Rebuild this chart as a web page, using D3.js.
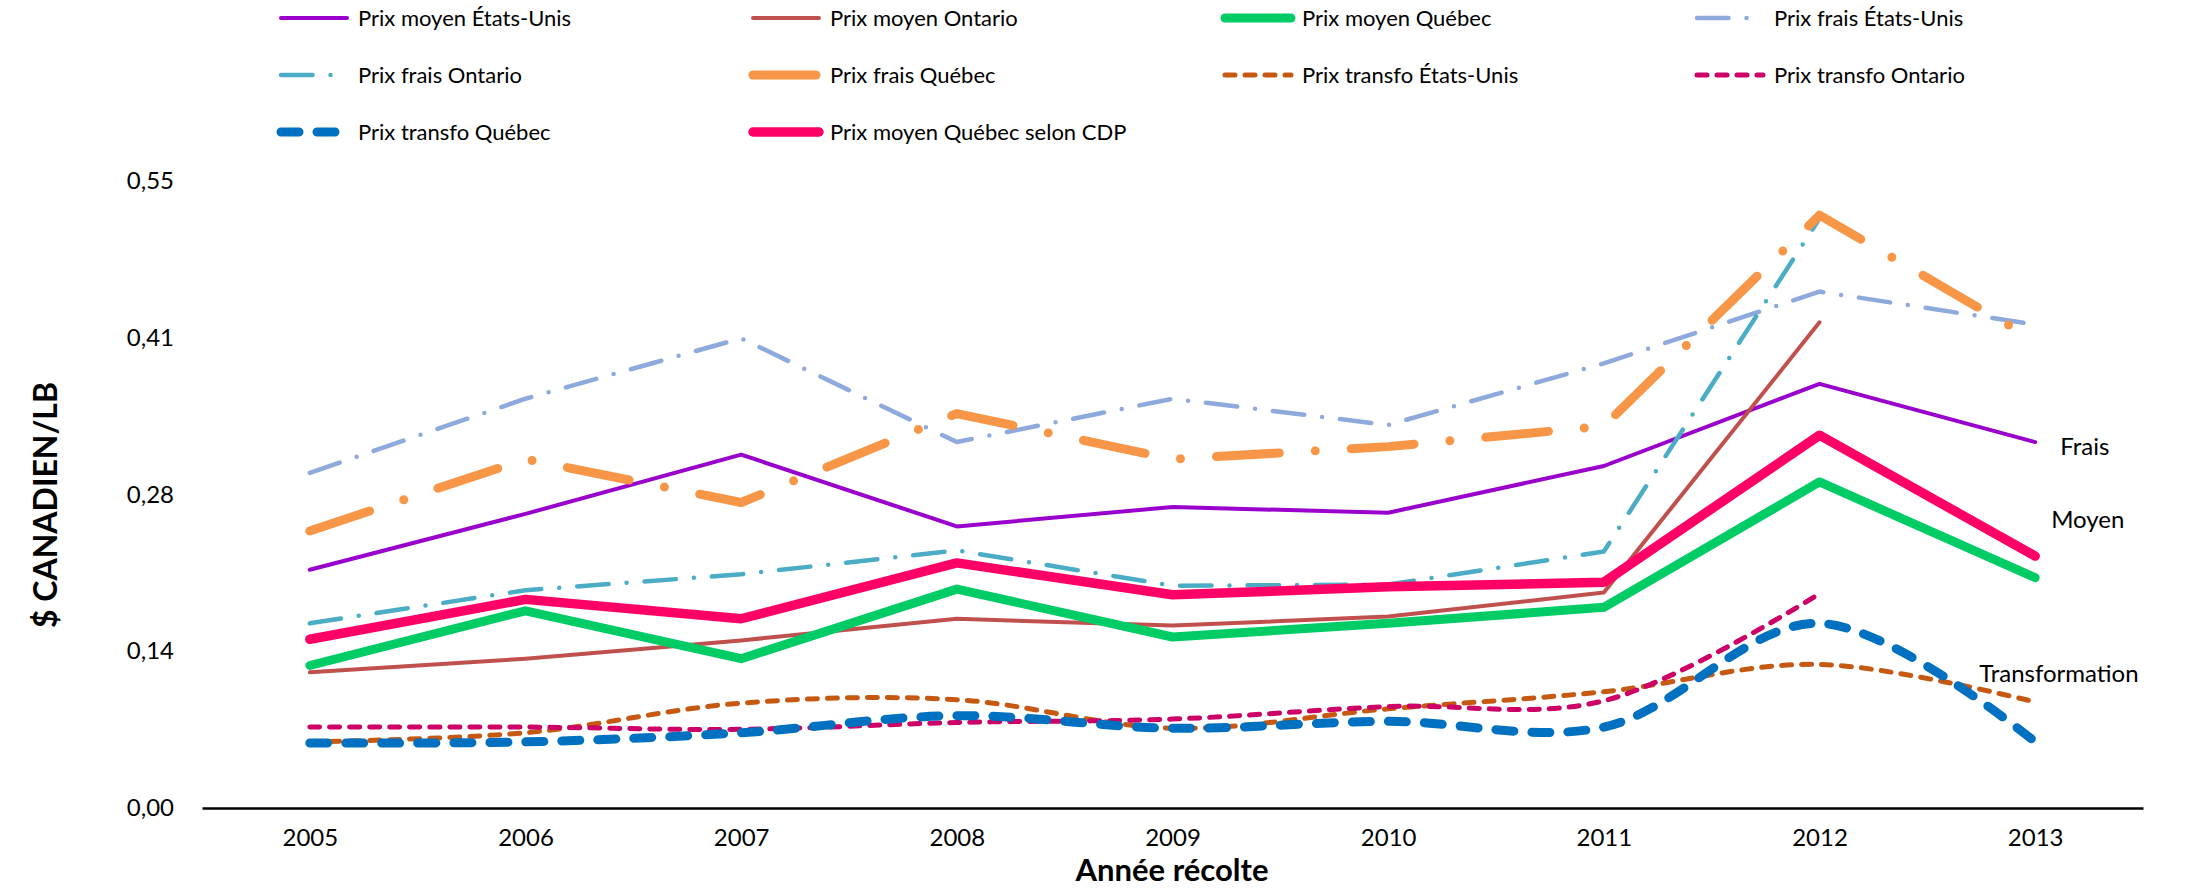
<!DOCTYPE html>
<html>
<head>
<meta charset="utf-8">
<script src="https://cdn.jsdelivr.net/npm/d3@7"></script>
<style>
  body { margin: 0; background: #fff; }
  svg { display: block; font-family: Lato, "Open Sans", sans-serif; }
</style>
</head>
<body>
<svg id="chart" width="2186" height="892"></svg>
<script>
// data
const years = ['2005', '2006', '2007', '2008', '2009', '2010', '2011', '2012', '2013'];

const moyenEU   = [0.209, 0.258, 0.310, 0.247, 0.264, 0.259, 0.300, 0.372, 0.321];
const moyenON   = [0.119, 0.131, 0.147, 0.166, 0.160, 0.168, 0.189, 0.426, null];
const moyenQC   = [0.125, 0.173, 0.131, 0.192, 0.150, 0.162, 0.176, 0.286, 0.202];
const fraisEU   = [0.294, 0.359, 0.412, 0.321, 0.359, 0.336, 0.390, 0.453, 0.424];
const fraisON   = [0.162, 0.191, 0.205, 0.226, 0.195, 0.196, 0.225, 0.517, null];
const fraisQC   = [0.243, 0.306, 0.268, 0.346, 0.306, 0.317, 0.335, 0.520, 0.410];
const transfoEU = [0.058, 0.066, 0.092, 0.095, 0.070, 0.087, 0.102, 0.126, 0.093];
const transfoON = [0.071, 0.071, 0.069, 0.075, 0.078, 0.089, 0.094, 0.188, null];
const transfoQC = [0.057, 0.058, 0.066, 0.081, 0.070, 0.076, 0.071, 0.162, 0.058];
const moyenCDP  = [0.148, 0.183, 0.166, 0.215, 0.187, 0.194, 0.198, 0.327, 0.221];

const yTicks = [0, 0.1375, 0.275, 0.4125, 0.55];
const yTickLabels = ['0,00', '0,14', '0,28', '0,41', '0,55'];

// sysDash / lgDashDot as drawn with round caps
const dash = w => [2 * w, 2 * w];
const dashDot = w => [7 * w, 4 * w, 0, 4 * w];

const series = [
  { name: 'Prix moyen États-Unis', values: moyenEU, color: '#9900CC', width: 4 },
  { name: 'Prix moyen Ontario', values: moyenON, color: '#C0504D', width: 4 },
  { name: 'Prix moyen Québec', values: moyenQC, color: '#00CC66', width: 9 },
  { name: 'Prix frais États-Unis', values: fraisEU, color: '#8EA9DB', width: 4.5, dash: dashDot(4.5) },
  { name: 'Prix frais Ontario', values: fraisON, color: '#4BACC6', width: 4.5, dash: dashDot(4.5) },
  { name: 'Prix frais Québec', values: fraisQC, color: '#F79646', width: 9, dash: dashDot(9) },
  { name: 'Prix transfo États-Unis', values: transfoEU, color: '#C65911', width: 5, dash: dash(5), smooth: true },
  { name: 'Prix transfo Ontario', values: transfoON, color: '#CC0066', width: 5, dash: dash(5), smooth: true },
  { name: 'Prix transfo Québec', values: transfoQC, color: '#0070C0', width: 9, dash: dash(9), smooth: true },
  { name: 'Prix moyen Québec selon CDP', values: moyenCDP, color: '#FF0066', width: 9.5 }
];

const svg = d3.select('#chart');

const x = d3.scalePoint().domain(years).range([202, 2143]).padding(0.5);
const y = d3.scaleLinear().domain([0, 0.55]).range([808, 181]);

// y axis (labels only)
const yAxis = svg.append('g')
  .attr('transform', 'translate(202,0)')
  .call(d3.axisLeft(y).tickValues(yTicks).tickSize(0).tickPadding(28)
    .tickFormat((d, i) => yTickLabels[i]));
yAxis.select('.domain').remove();
yAxis.selectAll('text').attr('font-size', 24).attr('fill', '#000').attr('font-family', 'Lato');

// x axis
const xAxis = svg.append('g')
  .attr('transform', 'translate(0,808)')
  .call(d3.axisBottom(x).tickSize(0).tickPadding(21));
xAxis.select('.domain').attr('stroke', '#000').attr('stroke-width', 2.5);
xAxis.selectAll('text').attr('font-size', 24).attr('fill', '#000').attr('font-family', 'Lato');

// lines
series.forEach(s => {
  const line = d3.line()
    .defined(d => d != null)
    .x((d, i) => x(years[i]))
    .y(d => y(d))
    .curve(s.smooth ? d3.curveCatmullRom.alpha(0.5) : d3.curveLinear);
  svg.append('path')
    .datum(s.values)
    .attr('d', line)
    .attr('fill', 'none')
    .attr('stroke', s.color)
    .attr('stroke-width', s.width)
    .attr('stroke-linecap', 'round')
    .attr('stroke-linejoin', 'round')
    .attr('stroke-dasharray', s.dash ? s.dash.join(',') : null);
});

// legend
const legend = svg.append('g');
series.forEach((s, i) => {
  const col = i % 4, row = Math.floor(i / 4);
  const lx = 281 + col * 472, ly = 18 + row * 57;
  legend.append('line')
    .attr('x1', lx).attr('x2', lx + 66)
    .attr('y1', ly).attr('y2', ly)
    .attr('stroke', s.color)
    .attr('stroke-width', s.width)
    .attr('stroke-linecap', 'round')
    .attr('stroke-dasharray', s.dash ? s.dash.join(',') : null);
  legend.append('text')
    .attr('x', lx + 77).attr('y', ly)
    .attr('dy', '0.35em')
    .attr('font-size', 22)
    .text(s.name);
});

// axis titles
svg.append('text')
  .attr('transform', 'translate(57,505) rotate(-90)')
  .attr('text-anchor', 'middle')
  .attr('font-size', 32)
  .attr('font-weight', 'bold')
  .text('$ CANADIEN/LB');

svg.append('text')
  .attr('x', 1172).attr('y', 881)
  .attr('text-anchor', 'middle')
  .attr('font-size', 31)
  .attr('font-weight', 'bold')
  .text('Année récolte');

// group labels on the right
const notes = [
  { text: 'Frais', dx: 25, y: 455 },
  { text: 'Moyen', dx: 16, y: 528 },
  { text: 'Transformation', dx: -56, y: 682 }
];
svg.selectAll('.note').data(notes).enter().append('text')
  .attr('class', 'note')
  .attr('x', d => x('2013') + d.dx)
  .attr('y', d => d.y)
  .attr('font-size', 24)
  .text(d => d.text);
</script>
</body>
</html>
